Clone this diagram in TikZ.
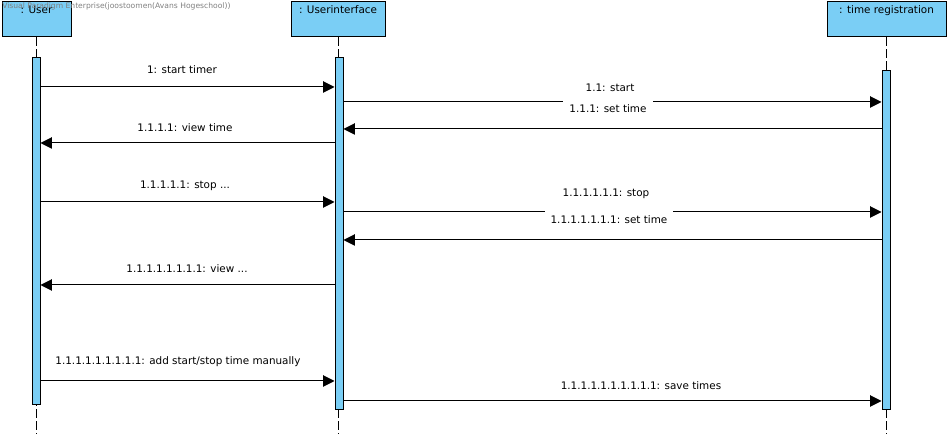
\documentclass[tikz,border=0pt]{standalone}
\usepackage{fontspec}
\setmainfont{DejaVu Sans}
\usetikzlibrary{arrows.meta,fit}
\definecolor{actblue}{RGB}{122,206,245}
\tikzset{
	head/.style={draw, fill=actblue, line width=0.75pt, inner sep=0pt},
	headtext/.style={anchor=north, inner sep=0pt, font=\fontsize{7.8}{9}\selectfont},
	act/.style={draw, fill=actblue, line width=0.75pt, inner sep=0pt},
	lifeline/.style={line width=0.75pt, dash pattern=on 6.5pt off 2.5pt},
	msg/.style={line width=0.75pt, -{Triangle[length=8.5pt,width=8.5pt]}},
	msglabel/.style={fill=white, inner xsep=4.5pt, inner ysep=3.5pt, text height=6pt, text depth=1.5pt, font=\fontsize{7.8}{9}\selectfont}
}
\begin{document}
\begin{tikzpicture}[x=0.75pt,y=-0.75pt]
		\useasboundingbox (0,0) rectangle (951,434);
		\coordinate (bottom) at (0,434);

		% heads
		\node[head, fit={(2,2) (71,37)}] (user) {};
		\node[head, fit={(291,2) (385,37)}] (ui) {};
		\node[head, fit={(827,2) (946,37)}] (tr) {};
		\node[headtext] at ([yshift=-3pt]user.north) {: User};
		\node[headtext] at ([yshift=-3pt]ui.north) {: Userinterface};
		\node[headtext] at ([yshift=-3pt]tr.north) {: time registration};

		% lifelines
		\draw[lifeline] (user.south) -- (user.south |- bottom);
		\draw[lifeline] (ui.south) -- (ui.south |- bottom);
		\draw[lifeline] (tr.south) -- (tr.south |- bottom);

		% activations
		\node[act, fit={(32,58) (40,405)}] (userA) {};
		\node[act, fit={(335,58) (343,410)}] (uiA) {};
		\node[act, fit={(882,71) (890,410)}] (trA) {};

		% messages
		\coordinate (m1) at (0,87);
		\coordinate (m2) at (0,102);
		\coordinate (m3) at (0,129);
		\coordinate (m4) at (0,143);
		\coordinate (m5) at (0,202);
		\coordinate (m6) at (0,212);
		\coordinate (m7) at (0,240);
		\coordinate (m8) at (0,285);
		\coordinate (m9) at (0,381);
		\coordinate (m10) at (0,401);

		\draw[msg] (userA.east |- m1) -- (uiA.west |- m1);
		\draw[msg] (uiA.east |- m2) -- (trA.west |- m2);
		\draw[msg] (trA.west |- m3) -- (uiA.east |- m3);
		\draw[msg] (uiA.west |- m4) -- (userA.east |- m4);
		\draw[msg] (userA.east |- m5) -- (uiA.west |- m5);
		\draw[msg] (uiA.east |- m6) -- (trA.west |- m6);
		\draw[msg] (trA.west |- m7) -- (uiA.east |- m7);
		\draw[msg] (uiA.west |- m8) -- (userA.east |- m8);
		\draw[msg] (userA.east |- m9) -- (uiA.west |- m9);
		\draw[msg] (uiA.east |- m10) -- (trA.west |- m10);

		% message labels
		\node[msglabel] (l1) at (182,71) {1: start timer};
		\node[msglabel] (l2) at (610,89) {1.1: start};
		\node[msglabel] (l3) at (608,110) {1.1.1: set time};
		\node[msglabel] (l4) at (185,129) {1.1.1.1: view time};
		\node[msglabel] (l5) at (185,186) {1.1.1.1.1: stop ...};
		\node[msglabel] (l6) at (606,194) {1.1.1.1.1.1: stop};
		\node[msglabel] (l7) at (609,221) {1.1.1.1.1.1.1: set time};
		\node[msglabel] (l8) at (187,270) {1.1.1.1.1.1.1.1: view ...};
		\node[msglabel] (l9) at (178,362) {1.1.1.1.1.1.1.1.1: add start/stop time manually};
		\node[msglabel] (l10) at (641,387) {1.1.1.1.1.1.1.1.1.1: save times};

		% watermark
		\node[anchor=north west, inner sep=0pt, text=gray, font=\fontsize{5.7}{6}\selectfont] (wm) at (2,2.5) {Visual Paradigm Enterprise(joostoomen(Avans Hogeschool))};
	\end{tikzpicture}
\end{document}
